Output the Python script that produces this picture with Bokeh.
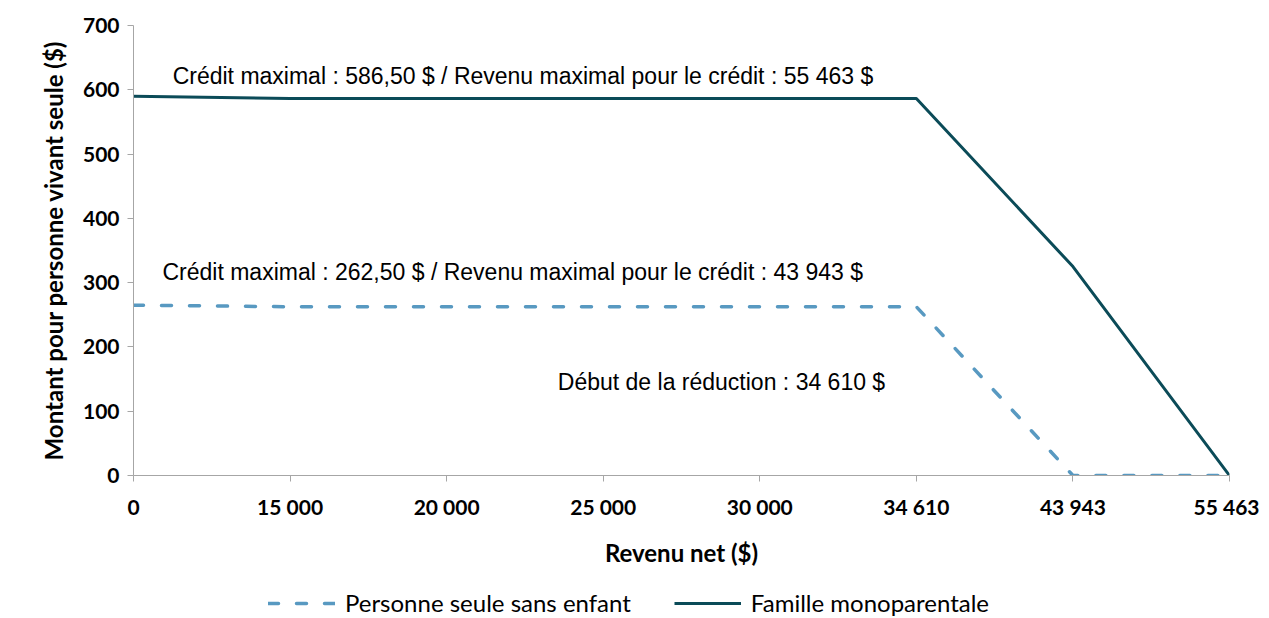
from bokeh.plotting import figure
from bokeh.models import Range1d, Legend, LegendItem, Label, FixedTicker
from bokeh.layouts import column
from bokeh.embed import file_html
from bokeh.resources import INLINE

# Data
categories = ["0", "15 000", "20 000", "25 000", "30 000", "34 610", "43 943", "55 463"]
personne_seule = [265, 262.5, 262.5, 262.5, 262.5, 262.5, 0, 0]
famille_mono = [590, 586.5, 586.5, 586.5, 586.5, 586.5, 325, 0]
series_names = ["Personne seule sans enfant", "Famille monoparentale"]
annotations = [
    "Crédit maximal : 586,50 $ / Revenu maximal pour le crédit : 55 463 $",
    "Crédit maximal : 262,50 $ / Revenu maximal pour le crédit : 43 943 $",
    "Début de la réduction : 34 610 $",
]

xs = list(range(len(categories)))
dark = "#0b4b58"
light = "#5899c1"
dash_style = dict(line_color=light, line_width=3.5, line_dash="10 18", line_cap="round")
solid_style = dict(line_color=dark, line_width=3)

p = figure(width=1259, height=586, output_backend="svg", toolbar_location=None,
           x_range=Range1d(0, len(categories) - 1), y_range=Range1d(0, 700),
           min_border_left=133, min_border_top=25, min_border_right=30,
           min_border_bottom=111)
p.outline_line_color = None
p.xgrid.grid_line_color = None
p.ygrid.grid_line_color = None

p.line(xs, personne_seule, **dash_style)
p.line(xs, famille_mono, **solid_style)

# axes
p.xaxis.ticker = FixedTicker(ticks=xs)
p.xaxis.major_label_overrides = {i: c for i, c in enumerate(categories)}
p.yaxis.ticker = FixedTicker(ticks=list(range(0, 701, 100)))
for ax in (p.xaxis[0], p.yaxis[0]):
    ax.axis_line_color = "#a6a6a6"
    ax.major_tick_line_color = "#a6a6a6"
    ax.minor_tick_line_color = None
    ax.major_tick_in = 0
    ax.major_tick_out = 6
    ax.major_label_text_font = "Lato"
    ax.major_label_text_font_style = "bold"
    ax.major_label_text_font_size = "21px"
    ax.major_label_text_color = "#000000"
    ax.axis_label_text_font = "Lato"
    ax.axis_label_text_font_style = "bold"
    ax.axis_label_text_font_size = "24px"
    ax.axis_label_text_color = "#000000"
p.xaxis.axis_label = "Revenu net ($)"
p.yaxis.axis_label = "Montant pour personne vivant seule ($)"
p.xaxis.major_label_standoff = 12
p.xaxis.axis_label_standoff = 16
p.yaxis.major_label_standoff = 8
p.yaxis.axis_label_standoff = 12

# annotations
pos = [(0.25, 622), (0.185, 316), (2.71, 146)]
for (x, y), t in zip(pos, annotations):
    p.add_layout(Label(x=x, y=y, text=t, text_font="Liberation Sans", text_font_size="23px",
                       text_baseline="middle", text_align="left", text_color="#000000"))

# legend strip (same series, drawn out of its visible range; only the legend shows)
lg = figure(width=1259, height=32, output_backend="svg", toolbar_location=None,
            x_range=Range1d(0, 1), y_range=Range1d(5000, 5001),
            x_axis_location=None, y_axis_location=None,
            min_border_left=0, min_border_right=0, min_border_top=0, min_border_bottom=0)
lg.outline_line_color = None
lg.xgrid.grid_line_color = None
lg.ygrid.grid_line_color = None
lr1 = lg.line(xs, personne_seule, **dash_style)
lr2 = lg.line(xs, famille_mono, **solid_style)
legend = Legend(items=[LegendItem(label=series_names[0], renderers=[lr1]),
                       LegendItem(label=series_names[1], renderers=[lr2])],
                orientation="horizontal", location=(135, 1),
                label_text_font="Lato", label_text_font_size="24px",
                label_text_color="#000000",
                glyph_width=67, label_standoff=10, spacing=43, padding=0, margin=0,
                border_line_color=None, background_fill_alpha=0)
lg.add_layout(legend, "center")

open("out.html", "w").write(file_html(column(p, lg), INLINE))
